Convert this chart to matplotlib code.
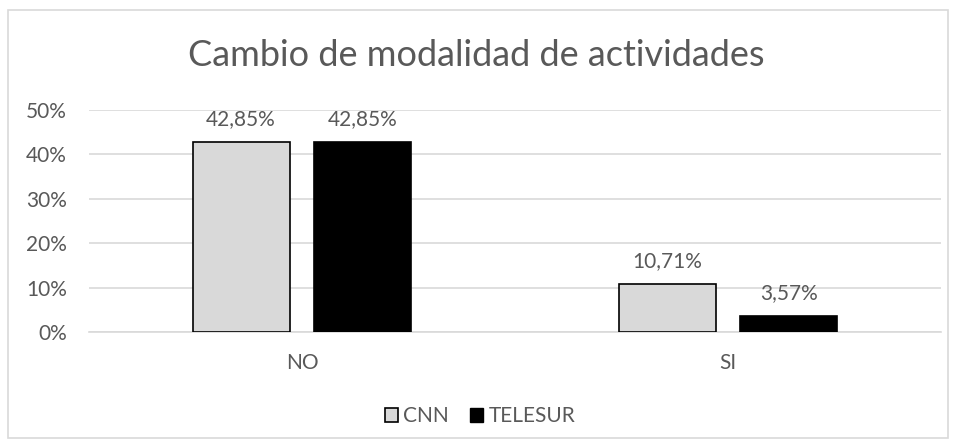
import matplotlib
matplotlib.use("Agg")
import matplotlib.pyplot as plt
from matplotlib.patches import Rectangle, Patch
import numpy as np

categories = ["NO", "SI"]
series_names = ["CNN", "TELESUR"]
cnn = [42.85, 10.71]
telesur = [42.85, 3.57]
cnn_labels = ["42,85%", "10,71%"]
telesur_labels = ["42,85%", "3,57%"]
yticks = [0, 10, 20, 30, 40, 50]
ytick_labels = ["0%", "10%", "20%", "30%", "40%", "50%"]
title = "Cambio de modalidad de actividades"

plt.rcParams['font.family'] = ['Lato', 'DejaVu Sans']
txt = "#595959"
fs = 15

fig = plt.figure(figsize=(9.55, 4.48), dpi=100)
fig.patches.append(Rectangle((8/955, 10/448), 940/955, 428/448, transform=fig.transFigure,
                             fill=False, edgecolor="#D9D9D9", linewidth=1.2))
ax = fig.add_axes([89/955, 1-332/448, 852/955, 222/448])

x = np.arange(len(categories))
w = 0.228
off = 0.143
b1 = ax.bar(x - off, cnn, w, color="#D9D9D9", edgecolor="black", linewidth=1.2, label=series_names[0], zorder=3)
b2 = ax.bar(x + off, telesur, w, color="black", edgecolor="black", linewidth=1.2, label=series_names[1], zorder=3)

for bars, labs in ((b1, cnn_labels), (b2, telesur_labels)):
    for r, l in zip(bars, labs):
        ax.annotate(l, (r.get_x() + r.get_width()/2, r.get_height()), xytext=(0, 13),
                    textcoords="offset pixels", ha="center", va="bottom", fontsize=fs, color=txt)

ax.set_xlim(-0.5, 1.5)
ax.set_ylim(0, 50)
ax.set_yticks(yticks)
ax.set_yticklabels(ytick_labels)
ax.set_xticks(x)
ax.set_xticklabels(categories)
ax.yaxis.grid(True, color="#D9D9D9", linewidth=1.2, zorder=0)
ax.set_axisbelow(True)
for s in ["top", "right", "left"]:
    ax.spines[s].set_visible(False)
ax.spines["bottom"].set_color("#D9D9D9")
ax.spines["bottom"].set_linewidth(1.2)
ax.tick_params(axis="both", length=0, labelsize=fs, colors=txt)
ax.tick_params(axis="y", pad=16)
ax.tick_params(axis="x", pad=15)

fig.text(476/955, 1-55/448, title, ha="center", va="center", fontsize=26, color=txt)

handles = [Patch(facecolor="#D9D9D9", edgecolor="black", linewidth=1.2), Patch(facecolor="black", edgecolor="black")]
fig.legend(handles, series_names, loc="center", bbox_to_anchor=(480/955, 1-416/448), ncol=2, frameon=False,
           fontsize=fs, labelcolor=txt, handlelength=0.65, handleheight=0.65, handletextpad=0.25, columnspacing=1.0)

fig.savefig("out.png", dpi=100)
